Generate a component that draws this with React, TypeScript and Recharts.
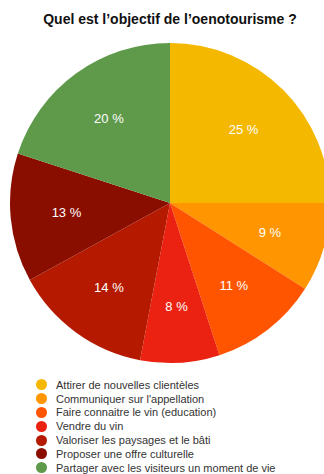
import { PieChart, Pie, Cell, Legend } from "recharts";

const labels = [
  "Attirer de nouvelles clientèles",
  "Communiquer sur l'appellation",
  "Faire connaitre le vin (education)",
  "Vendre du vin",
  "Valoriser les paysages et le bâti",
  "Proposer une offre culturelle",
  "Partager avec les visiteurs un moment de vie",
];
const values = [25, 9, 11, 8, 14, 13, 20];
const colors = ["#F5B800", "#FF9500", "#FF5500", "#EB2211", "#B51A00", "#8A0E00", "#5E9A4A"];

const data = labels.map((name, i) => ({ name, value: values[i] }));

const RAD = Math.PI / 180;

const renderLabel = (p: any) => {
  const r = p.outerRadius * 0.65;
  const x = p.cx + r * Math.cos(-p.midAngle * RAD);
  const y = p.cy + r * Math.sin(-p.midAngle * RAD);
  return (
    <text
      x={x}
      y={y}
      fill="#fff"
      textAnchor="middle"
      dominantBaseline="central"
      fontSize={13}
      fontFamily="Liberation Sans, Arial, sans-serif"
    >
      {p.value} %
    </text>
  );
};

const renderLegend = () => (
  <div style={{ fontFamily: "Liberation Sans, Arial, sans-serif", fontSize: 11, color: "#333" }}>
    {data.map((d, i) => (
      <div key={d.name} style={{ display: "flex", alignItems: "center", height: 13.8 }}>
        <span
          style={{
            display: "inline-block",
            width: 11,
            height: 11,
            borderRadius: "50%",
            background: colors[i],
            marginRight: 9,
          }}
        />
        {d.name}
      </div>
    ))}
  </div>
);

export default function App() {
  return (
    <div style={{ position: "absolute", left: 0, top: 0, width: 324, height: 474, overflow: "hidden", background: "#fff" }}>
      <div
        style={{
          position: "absolute",
          top: 11,
          left: 0,
          width: 340,
          textAlign: "center",
          fontFamily: "Liberation Sans, Arial, sans-serif",
          fontWeight: "bold",
          fontSize: 14,
          color: "#111",
        }}
      >
        Quel est l’objectif de l’oenotourisme ?
      </div>
      <PieChart width={324} height={474} margin={{ top: 0, right: 0, bottom: 0, left: 0 }}>
        <Pie
          data={data}
          dataKey="value"
          nameKey="name"
          cx={170}
          cy={203}
          outerRadius={160}
          startAngle={90}
          endAngle={-270}
          stroke="none"
          label={renderLabel}
          labelLine={false}
          isAnimationActive={false}
        >
          {data.map((_, i) => (
            <Cell key={i} fill={colors[i]} />
          ))}
        </Pie>
        <Legend
          content={renderLegend}
          wrapperStyle={{ position: "absolute", left: 36, top: 378, width: 290 }}
        />
      </PieChart>
    </div>
  );
}
